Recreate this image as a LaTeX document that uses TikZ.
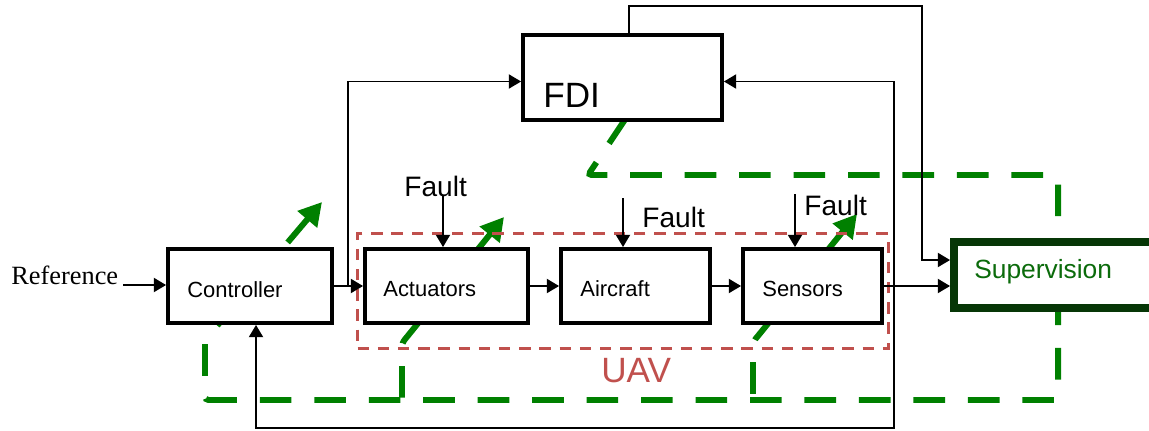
\documentclass[tikz,border=0pt]{standalone}
\usepackage{fontspec}
\setmainfont{Liberation Serif}
\setsansfont{Liberation Sans}
\usetikzlibrary{positioning, arrows.meta, calc}

\begin{document}
\begin{tikzpicture}[
    x=0.02cm, y=-0.02cm,
    >={Triangle[length=7pt, width=8pt]},
    block/.style={
        rectangle,
        draw=black,
        fill=white,
        line width=2.2pt,
        minimum width=#1,
        minimum height=1.48cm,
        inner sep=0pt
    },
    blocklabel/.style={
        anchor=base west,
        inner sep=0pt,
        font=\sffamily\fontsize{12.5}{14}\selectfont
    },
    faultlabel/.style={
        anchor=base west,
        inner sep=0pt,
        font=\sffamily\fontsize{16}{18}\selectfont
    },
    uavbox/.style={
        rectangle,
        draw=uav_red,
        line width=1.7pt,
        dash pattern=on 6.5pt off 5pt,
        minimum width=10.62cm,
        minimum height=2.3cm
    },
    arrow/.style={
        ->,
        line width=1.1pt,
        draw=black
    },
    flow/.style={
        {Triangle[length=13pt, width=14pt]}-,
        draw=flow_green,
        line width=3.4pt,
        dash pattern=on 18pt off 13pt,
        rounded corners=2pt
    }
]

% Colors
\definecolor{flow_green}{HTML}{008000}
\definecolor{uav_red}{HTML}{C0504D}
\definecolor{sup_dark}{HTML}{063606}
\definecolor{sup_green}{HTML}{0B6B0B}

\useasboundingbox (0,0) rectangle (1149,430);

% Supervision flow (behind everything)
\coordinate (tipC) at (322,202);
\coordinate (tipA) at (504,217);
\coordinate (tipS) at (857,214);
\draw[flow] (tipC) -- (205,340) -- (205,400) -- (1058,400) -- (1058,175) -- (588,175) -- (630,112);
\draw[flow] (tipA) -- (402,343) -- (402,400);
\draw[flow] (tipS) -- (753,342) -- (753,400);

% UAV frame
\node[uavbox] (uav) at (623,291) {};
\node[anchor=base west, inner sep=0pt, font=\sffamily\fontsize{20}{24}\selectfont, text=uav_red] (uav-t) at (601,382) {UAV};

% Blocks
\node[block=3.28cm] (ctrl) at (250,286) {};
\node[blocklabel] (ctrl-t) at (187,297) {Controller};

\node[block=3.26cm] (act) at (446.5,286) {};
\node[blocklabel] (act-t) at (383,296) {Actuators};

\node[block=2.98cm] (air) at (635.5,286) {};
\node[blocklabel] (air-t) at (580,296) {Aircraft};

\node[block=2.78cm] (sens) at (812.5,286) {};
\node[blocklabel] (sens-t) at (762,296) {Sensors};

\node[block=3.98cm, minimum height=1.70cm] (fdi) at (622.5,77.5) {};
\node[anchor=base west, inner sep=0pt, font=\sffamily\fontsize{20}{24}\selectfont] (fdi-t) at (543,107) {FDI};

\node[block=4.52cm, minimum height=1.32cm, draw=sup_dark, line width=4.5pt] (sup) at (1067,275) {};
\node[anchor=base west, inner sep=0pt, font=\sffamily\fontsize{15}{18}\selectfont, text=sup_green] (sup-t) at (974,278) {Supervision};

% Input
\node[anchor=base west, inner sep=0pt, font=\fontsize{15}{18}\selectfont] (ref) at (11,284) {Reference};
\coordinate (refin) at (123,285);
\draw[arrow] (refin) -- (refin -| ctrl.west);

% Faults
\node[faultlabel] (f1-t) at (404,196) {Fault};
\node[faultlabel] (f2-t) at (642,227) {Fault};
\node[faultlabel] (f3-t) at (804,215) {Fault};
\coordinate (f1) at (443,196);
\coordinate (f2) at (623,198);
\coordinate (f3) at (795,194);
\draw[arrow] (f1) -- (f1 |- act.north);
\draw[arrow] (f2) -- (f2 |- air.north);
\draw[arrow] (f3) -- (f3 |- sens.north);

% Arrows
\draw[arrow] (ctrl.east) -- (act.west);
\draw[arrow] (act.east) -- (air.west);
\draw[arrow] (air.east) -- (sens.west);
\draw[arrow] (sens.east) -- (sens.east -| sup.west);

% Branches to FDI
\coordinate (split1) at (348,286);
\coordinate (split2) at (894,286);
\draw[arrow] (split1) |- ([yshift=-0.08cm]fdi.west);
\draw[arrow] (split2) |- ([yshift=-0.08cm]fdi.east);

% Feedback
\coordinate (fbk) at (894,428);
\draw[arrow] (split2) -- (fbk) -| ([xshift=0.12cm]ctrl.south);

% FDI to supervision
\coordinate (topright) at (922,6);
\draw[arrow] ([xshift=0.13cm]fdi.north) |- (topright) |- ([yshift=0.3cm]sup.west);

\end{tikzpicture}
\end{document}
